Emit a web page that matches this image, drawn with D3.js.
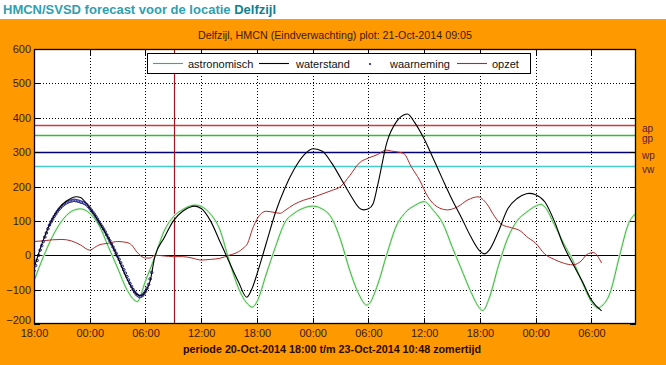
<!DOCTYPE html>
<html>
<head>
<meta charset="utf-8">
<script src="https://cdn.jsdelivr.net/npm/d3@7"></script>
<style>
  html, body { margin: 0; padding: 0; background: #ffffff; }
  svg { display: block; font-family: "Liberation Sans", Arial, sans-serif; }
</style>
</head>
<body>
<svg id="chart" width="666" height="365"></svg>
<script>
// ---------- data (hours since 20-Oct-2014 18:00, value in cm) ----------
const startDate = new Date(2014, 9, 20, 18, 0);
const periodHours = 64.8;              // t/m 23-Oct-2014 10:48
const plotTimeHours = 15 + 5 / 60;     // plot: 21-Oct-2014 09:05

const yTicks = [-200, -100, 0, 100, 200, 300, 400, 500, 600];

const astronomisch = [
  [0,-75],[1,-5],[2,55],[3,100],[4,127],[5,135],[6,122],[7,87],[8,25],[9,-37],[10,-100],[11,-134],[11.1,-135],
  [12,-75],[13,-5],[14,70],[15,112],[16,133],[17,145],[17.4,146],[18,142],[19,120],[20,75],[21,-15],[22,-95],[23,-142],[23.5,-151],
  [24,-135],[25,-55],[26,25],[27,95],[28,122],[29,137],[30,143],[31,135],[32,110],[33,45],[34,-45],[35,-115],[35.8,-145],
  [36,-143],[37,-85],[38,5],[39,85],[40,125],[41,145],[42,156],[43,130],[44,93],[45,25],[46,-40],[47,-105],[48,-155],[48.3,-161],
  [49,-125],[50,-30],[51,50],[52,100],[53,125],[54,143],[54.6,148],[55,140],[56,90],[57,35],[58,-15],[59,-78],[60,-135],[60.7,-154],
  [61,-150],[62,-110],[63,-5],[64,92],[64.8,122]
];

const waterstand = [
  [0,-37],[1,44],[2,107],[3,146],[4,166],[4.6,170],[5,168],[6,137],[7,97],[8,50],[9,-5],[10,-68],[11,-112],[11.5,-118],
  [12,-105],[12.5,-75],[13,-5],[14,50],[15,100],[16,128],[17,142],[17.2,143],[18,136],[19,100],[20,41],[21,-19],[22,-77],[22.9,-122],
  [23.5,-95],[24,-55],[25,35],[26,125],[27,195],[28,250],[29,290],[30,310],[31,303],[32,270],[33,225],[34,178],[35,138],[35.5,132],
  [36,135],[36.5,150],[37,205],[38,330],[39,388],[40,410],[40.2,411],[41,385],[42,338],[43,280],[44,220],[45,162],[46,110],[47,55],
  [48,12],[48.5,4],[49,15],[50,70],[51,135],[52,165],[53,179],[53.3,180],[54,176],[55,155],[56,100],[57,28],[58,-25],[59,-75],[60,-130],[61.1,-162]
];

// observations every 10 minutes
const waarneming = [
  [0,-45],[0.167,-30],[0.333,-15],[0.5,0],[0.667,15],[0.833,28],[1,40],[1.167,53],[1.333,65],[1.5,77],[1.667,88],[1.833,97],
  [2,105],[2.167,113],[2.333,120],[2.5,127],[2.667,133],[2.833,138],[3,143],[3.167,147],[3.333,150],[3.5,153],[3.667,155],[3.833,157],
  [4,158],[4.167,159],[4.333,160],[4.5,159],[4.667,158],[4.833,157],[5,155],[5.167,154],[5.333,152],[5.5,150],[5.667,147],[5.833,142],
  [6,137],[6.167,131],[6.333,125],[6.5,119],[6.667,112],[6.833,105],[7,97],[7.167,90],[7.333,83],[7.5,76],[7.667,68],[7.833,59],
  [8,50],[8.167,42],[8.333,33],[8.5,24],[8.667,15],[8.833,6],[9,-3],[9.167,-12],[9.333,-22],[9.5,-32],[9.667,-42],[9.833,-52],
  [10,-62],[10.167,-72],[10.333,-82],[10.5,-91],[10.667,-100],[10.833,-107],[11,-113],[11.167,-117],[11.333,-120],[11.5,-119],
  [11.667,-117],[11.833,-112],[12,-105],[12.167,-96],[12.333,-85],[12.5,-69],[12.667,-50]
];

const opzet = [
  [0,40],[1,42],[2,45],[3,46],[4,42],[5,30],[6,15],[6.5,22],[7,30],[8,35],[9,40],[10,37],[10.5,30],[11,12],[11.5,-2],
  [12,-8],[12.5,-8],[13,0],[14,-2],[15,-4],[16,-4],[17,-8],[18,-14],[19,-12],[20,-9],[21,0],[22,10],[22.5,20],[23,35],
  [23.5,75],[24,105],[25,128],[26,124],[26.5,122],[27,130],[28,148],[29,160],[30,168],[31,178],[32,188],[33,200],[34,232],
  [35,268],[36,283],[37,293],[37.9,306],[38.5,303],[39,301],[39.8,296],[40.6,258],[41.5,219],[42.4,170],[43.4,141],[44.5,132],
  [45.6,141],[46.7,161],[47.8,170],[48.7,151],[49.6,112],[50.3,90],[51.4,80],[52.4,70],[53,55],[54,35],[55,3],[56,-12],
  [57,-23],[58,-28],[59,-14],[59.5,2],[60.2,8],[61.1,-23]
];

const refLevels = [
  { name: "ap", value: 380, color: "#d03a3a" },
  { name: "gp", value: 350, color: "#33bb33" },
  { name: "wp", value: 300, color: "#000070" },
  { name: "vw", value: 260, color: "#44cccc" }
];

const legendItems = [
  { label: "astronomisch", type: "line", color: "#3cb43c" },
  { label: "waterstand", type: "line", color: "#000000" },
  { label: "waarneming", type: "dot", color: "#000080" },
  { label: "opzet", type: "line", color: "#b02828" }
];

// ---------- drawing ----------
const W = 666, H = 365;
const L = 34, R = 636, T = 49, B = 324;
const toDate = h => new Date(startDate.getTime() + h * 3600e3);
const endDate = toDate(periodHours);

const x = d3.scaleTime().domain([startDate, endDate]).range([L, R]);
const y = d3.scaleLinear().domain([-200, 600]).range([B, T]);

const svg = d3.select("#chart");
const textCol = "#3a1a10";

// page title
svg.append("rect").attr("x", 0).attr("y", 0).attr("width", W).attr("height", H).attr("fill", "#ffffff");
const title = svg.append("text").attr("x", 3).attr("y", 14)
  .attr("font-size", 13).attr("font-weight", "bold").attr("fill", "#2fa0b0");
title.append("tspan").text("HMCN/SVSD forecast voor de locatie ");
title.append("tspan").attr("fill", "#0f7f90").text("Delfzijl");

// orange panel
svg.append("rect").attr("x", 0).attr("y", 19).attr("width", W).attr("height", H - 19).attr("fill", "#ff9900");

// plot background
svg.append("rect").attr("x", L).attr("y", T).attr("width", R - L).attr("height", B - T).attr("fill", "#ffffff");

// plot title
svg.append("text").attr("x", (L + R) / 2).attr("y", 39).attr("text-anchor", "middle")
  .attr("font-size", 11).attr("fill", textCol)
  .attr("textLength", 274).attr("lengthAdjust", "spacingAndGlyphs")
  .text("Delfzijl, HMCN (Eindverwachting) plot: 21-Oct-2014 09:05");

const xTicks = d3.timeHour.every(6).range(startDate, new Date(endDate.getTime() + 1))
  .filter(d => d >= startDate && d <= endDate);

// grid
const grid = svg.append("g").attr("stroke", "#000").attr("stroke-width", 1).attr("stroke-dasharray", "1,2");
grid.selectAll("line.gx").data(xTicks.slice(1)).join("line")
  .attr("x1", d => Math.round(x(d)) + 0.5).attr("x2", d => Math.round(x(d)) + 0.5)
  .attr("y1", T).attr("y2", B);
grid.selectAll("line.gy").data(yTicks.filter(v => v !== 0 && v !== -200 && v !== 600)).join("line")
  .attr("x1", L).attr("x2", R)
  .attr("y1", d => Math.round(y(d)) + 0.5).attr("y2", d => Math.round(y(d)) + 0.5);

// reference levels
svg.append("g").selectAll("line").data(refLevels).join("line")
  .attr("x1", L).attr("x2", R)
  .attr("y1", d => Math.round(y(d.value)) + 0.5).attr("y2", d => Math.round(y(d.value)) + 0.5)
  .attr("stroke", d => d.color).attr("stroke-width", 1.3);
svg.append("g").selectAll("text").data(refLevels).join("text")
  .attr("x", 642).attr("y", d => y(d.value) + 7)
  .attr("font-size", 10).attr("fill", "#5a1a30").text(d => d.name);

// zero line
svg.append("line").attr("x1", L).attr("x2", R)
  .attr("y1", Math.round(y(0)) + 0.5).attr("y2", Math.round(y(0)) + 0.5)
  .attr("stroke", "#000").attr("stroke-width", 1.2);

// plot-time marker
svg.append("line")
  .attr("x1", Math.round(x(toDate(plotTimeHours))) + 0.5).attr("x2", Math.round(x(toDate(plotTimeHours))) + 0.5)
  .attr("y1", T).attr("y2", B).attr("stroke", "#a01818").attr("stroke-width", 1.2);

// series
const line = d3.line().x(d => x(toDate(d[0]))).y(d => y(d[1])).curve(d3.curveMonotoneX);
svg.append("clipPath").attr("id", "clip").append("rect")
  .attr("x", L).attr("y", T).attr("width", R - L).attr("height", B - T);
const series = svg.append("g").attr("clip-path", "url(#clip)");

series.append("path").datum(astronomisch).attr("d", line).attr("fill", "none")
  .attr("stroke", "#e0f4e0").attr("stroke-width", 2.6);
series.append("path").datum(astronomisch).attr("d", line).attr("fill", "none")
  .attr("stroke", "#3db83d").attr("stroke-width", 1);
series.append("path").datum(opzet).attr("d", line).attr("fill", "none")
  .attr("stroke", "#b02828").attr("stroke-width", 1);
series.append("g").selectAll("circle").data(waarneming).join("circle")
  .attr("cx", d => x(toDate(d[0]))).attr("cy", d => y(d[1])).attr("r", 1.3)
  .attr("fill", "#c0c8f0").attr("stroke", "#14147a").attr("stroke-width", 0.9);
series.append("path").datum(waterstand).attr("d", line).attr("fill", "none")
  .attr("stroke", "#000").attr("stroke-width", 1.1);

// frame
svg.append("rect").attr("x", L + 0.5).attr("y", T + 0.5).attr("width", R - L - 1).attr("height", B - T - 1)
  .attr("fill", "none").attr("stroke", "#000").attr("stroke-width", 1.3);

// ticks (inward, on all sides)
const tk = svg.append("g").attr("stroke", "#000").attr("stroke-width", 1);
xTicks.forEach(d => {
  const xx = Math.round(x(d)) + 0.5;
  tk.append("line").attr("x1", xx).attr("x2", xx).attr("y1", B).attr("y2", B - 6);
  tk.append("line").attr("x1", xx).attr("x2", xx).attr("y1", T).attr("y2", T + 6);
});
yTicks.forEach(v => {
  const yy = Math.round(y(v)) + 0.5;
  tk.append("line").attr("x1", L).attr("x2", L + 6).attr("y1", yy).attr("y2", yy);
  tk.append("line").attr("x1", R - 6).attr("x2", R).attr("y1", yy).attr("y2", yy);
});

// axes labels via d3 axes
const xAxis = d3.axisBottom(x).tickValues(xTicks).tickFormat(d3.timeFormat("%H:%M")).tickSize(0).tickPadding(0);
const gx = svg.append("g").attr("transform", `translate(0,${B + 13})`).call(xAxis);
gx.select(".domain").remove();
gx.selectAll("text").attr("font-size", 11).attr("fill", textCol).attr("font-family", "Liberation Sans, Arial, sans-serif").attr("dy", 0);

const yAxis = d3.axisLeft(y).tickValues(yTicks).tickSize(0).tickPadding(0);
const gy = svg.append("g").attr("transform", `translate(31,0)`).call(yAxis);
gy.select(".domain").remove();
gy.selectAll("text").attr("font-size", 11).attr("fill", textCol).attr("font-family", "Liberation Sans, Arial, sans-serif");
gy.selectAll(".tick").filter(d => d === -200).select("text").attr("dy", "-0.05em");

// period label
svg.append("text").attr("x", 332).attr("y", 352.5).attr("text-anchor", "middle")
  .attr("font-size", 11).attr("font-weight", "bold").attr("fill", "#2a0a00")
  .attr("textLength", 298).attr("lengthAdjust", "spacingAndGlyphs")
  .text("periode 20-Oct-2014 18:00 t/m 23-Oct-2014 10:48 zomertijd");

// legend
const lg = svg.append("g");
lg.append("rect").attr("x", 147.5).attr("y", 53.5).attr("width", 383).attr("height", 20)
  .attr("fill", "#fff").attr("stroke", "#000").attr("stroke-width", 1);
const legX = [153, 259, 350, 457];
const legTextX = [188, 296, 390, 492];
legendItems.forEach((it, i) => {
  if (it.type === "line") {
    lg.append("line").attr("x1", legX[i]).attr("x2", legX[i] + 30).attr("y1", 63.5).attr("y2", 63.5)
      .attr("stroke", it.color).attr("stroke-width", 1.1);
  } else {
    lg.append("circle").attr("cx", 370).attr("cy", 64).attr("r", 1).attr("fill", it.color);
  }
  lg.append("text").attr("x", legTextX[i]).attr("y", 68).attr("font-size", 11)
    .attr("fill", "#111").text(it.label);
});
</script>
</body>
</html>
